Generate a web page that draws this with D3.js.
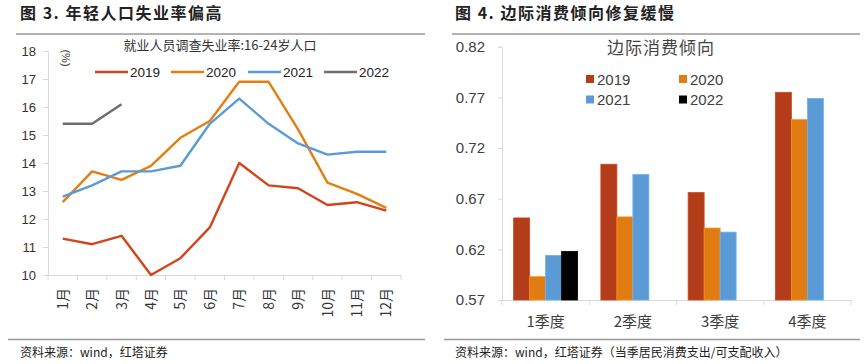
<!DOCTYPE html>
<html><head><meta charset="utf-8">
<script src="https://cdn.jsdelivr.net/npm/d3@7"></script>
<style>
body{margin:0;background:#fff;}
svg{display:block;font-family:"Liberation Sans",Arial,"Noto Sans CJK SC",sans-serif;}
.cjk{font-family:"Noto Sans CJK SC",sans-serif;}
</style></head><body>
<svg id="c" width="865" height="364"></svg>
<script>
// ---- Data: chart 1 (youth unemployment, %) ----
const months = ["1月","2月","3月","4月","5月","6月","7月","8月","9月","10月","11月","12月"];
const lineYears = ["2019","2020","2021","2022"];
const u2019 = [11.3,11.1,11.4,10.0,10.6,11.7,14.0,13.2,13.1,12.5,12.6,12.3];
const u2020 = [12.6,13.7,13.4,13.9,14.9,15.5,16.9,16.9,15.2,13.3,12.9,12.4];
const u2021 = [12.8,13.2,13.7,13.7,13.9,15.4,16.3,15.4,14.7,14.3,14.4,14.4];
const u2022 = [15.4,15.4,16.1];
const lineTicks = [10,11,12,13,14,15,16,17,18];
// ---- Data: chart 2 (marginal propensity to consume) ----
const quarters = ["1季度","2季度","3季度","4季度"];
const barYears = ["2019","2020","2021","2022"];
const c2019 = [0.651,0.704,0.676,0.775];
const c2020 = [0.593,0.652,0.641,0.748];
const c2021 = [0.614,0.694,0.637,0.769];
const c2022 = [0.618,null,null,null];
const barTicks = [0.57,0.62,0.67,0.72,0.77,0.82];

const lineColors = {"2019":"#D2441A","2020":"#E37E12","2021":"#5B9BD5","2022":"#6E6E6E"};
const barColors = {"2019":"#B33D1A","2020":"#E07C12","2021":"#5B9BD5","2022":"#000000"};
const axisCol = "#D9D9D9", txtCol = "#333";

const svg = d3.select("#c");

// ---- headers / footers ----
function frame(x0, x1, title, source, tx) {
  svg.append("text").attr("x", tx).attr("y", 19).attr("class","cjk")
    .attr("font-size", 16).attr("font-weight", "bold").attr("letter-spacing", "1.5px")
    .attr("fill", "#222").text(title);
  svg.append("line").attr("x1", x0).attr("x2", x1).attr("y1", 34).attr("y2", 34)
    .attr("stroke", "#9a9a9a").attr("stroke-width", 1.6);
  svg.append("line").attr("x1", x0 - 8).attr("x2", x1).attr("y1", 339.5).attr("y2", 339.5)
    .attr("stroke", "#9a9a9a").attr("stroke-width", 1.4);
  svg.append("text").attr("x", tx).attr("y", 357).attr("class","cjk")
    .attr("font-size", 12).attr("fill", "#222").text(source);
}
frame(16, 425, "图 3. 年轻人口失业率偏高", "资料来源：wind，红塔证券", 20);
frame(452, 860, "图 4. 边际消费倾向修复缓慢", "资料来源：wind，红塔证券（当季居民消费支出/可支配收入）", 455);

// ---- Chart 1: lines ----
const x1s = d3.scaleBand().domain(months).range([48, 401]);
const y1s = d3.scaleLinear().domain([10, 18]).range([275, 51]);

const gy1 = svg.append("g").attr("transform", "translate(48,0)")
  .call(d3.axisLeft(y1s).tickValues(lineTicks).tickSize(5).tickPadding(7).tickFormat(d3.format("d")));
const gx1 = svg.append("g").attr("transform", "translate(0,275)")
  .call(d3.axisBottom(x1s).tickSize(5).tickSizeOuter(0));
// band-edge ticks instead of center ticks
gx1.selectAll(".tick line").remove();
x1s.domain().forEach((m, i) => {
  gx1.append("line").attr("x1", x1s(m)).attr("x2", x1s(m)).attr("y1", 0).attr("y2", 5).attr("stroke", axisCol);
});
gx1.append("line").attr("x1", 401).attr("x2", 401).attr("y1", 0).attr("y2", 5).attr("stroke", axisCol);
gx1.selectAll(".tick text").attr("transform", "rotate(-90)").attr("text-anchor", "end")
  .attr("x", -13).attr("y", 0).attr("dy", "0.36em").attr("class","cjk").attr("font-size", 14);

[gy1, gx1].forEach(g => {
  g.select(".domain").attr("stroke", axisCol);
  g.selectAll(".tick line").attr("stroke", axisCol);
  g.selectAll("text").attr("fill", txtCol);
});
gy1.selectAll("text").attr("font-size", 13).attr("font-family", "Liberation Sans, Arial, sans-serif");

const lineData = {"2019": u2019, "2020": u2020, "2021": u2021, "2022": u2022};
const lineGen = d3.line().x((d, i) => x1s(months[i]) + x1s.bandwidth() / 2).y(d => y1s(d));
lineYears.forEach(yr => {
  svg.append("path").datum(lineData[yr]).attr("d", lineGen).attr("fill", "none")
    .attr("stroke", lineColors[yr]).attr("stroke-width", 2.4).attr("stroke-linejoin", "round");
});

svg.append("text").attr("x", 220).attr("y", 50).attr("text-anchor", "middle").attr("class","cjk")
  .attr("font-size", 13).attr("fill", "#333").text("就业人员调查失业率:16-24岁人口");
svg.append("text").attr("transform", "translate(62,58) rotate(90)").attr("text-anchor", "middle")
  .attr("font-size", 11).attr("fill", "#333").text("(%)");

const legX = [95, 171, 248, 324];
lineYears.forEach((yr, i) => {
  svg.append("line").attr("x1", legX[i]).attr("x2", legX[i] + 33).attr("y1", 72).attr("y2", 72)
    .attr("stroke", lineColors[yr]).attr("stroke-width", 2.4);
  svg.append("text").attr("x", legX[i] + 35).attr("y", 77).attr("font-size", 13.5)
    .attr("fill", "#222").text(yr);
});

// ---- Chart 2: bars ----
const x2s = d3.scaleBand().domain(quarters).range([502, 851]);
const sub = d3.scaleBand().domain(barYears).range([0, 64]);
const y2s = d3.scaleLinear().domain([0.57, 0.82]).range([300, 46.7]);

const gy2 = svg.append("g").attr("transform", "translate(502,0)")
  .call(d3.axisLeft(y2s).tickValues(barTicks).tickSize(4).tickPadding(13).tickFormat(d3.format(".2f")));
const gx2 = svg.append("g").attr("transform", "translate(0,300)")
  .call(d3.axisBottom(x2s).tickSize(0).tickPadding(13).tickSizeOuter(0));
x2s.domain().forEach(q => {
  gx2.append("line").attr("x1", x2s(q)).attr("x2", x2s(q)).attr("y1", 0).attr("y2", 5).attr("stroke", axisCol);
});
gx2.append("line").attr("x1", 851).attr("x2", 851).attr("y1", 0).attr("y2", 5).attr("stroke", axisCol);
[gy2, gx2].forEach(g => {
  g.select(".domain").attr("stroke", axisCol);
  g.selectAll(".tick line").attr("stroke", axisCol);
  g.selectAll("text").attr("fill", "#404040");
});
gy2.selectAll("text").attr("font-size", 15).attr("font-family", "Liberation Sans, Arial, sans-serif");
gx2.selectAll("text").attr("font-size", 15).attr("class","cjk").attr("dy", "0.9em");

const barData = {"2019": c2019, "2020": c2020, "2021": c2021, "2022": c2022};
const off = (x2s.bandwidth() - 64) / 2;
barYears.forEach(yr => {
  svg.append("g").selectAll("rect")
    .data(quarters.map((q, i) => ({q, v: barData[yr][i]})).filter(d => d.v != null))
    .join("rect")
    .attr("x", d => x2s(d.q) + off + sub(yr))
    .attr("width", sub.bandwidth())
    .attr("y", d => y2s(d.v))
    .attr("height", d => 300 - y2s(d.v))
    .attr("fill", barColors[yr])
    .attr("stroke", d3.color(barColors[yr]).brighter(0.4)).attr("stroke-width", 0.8);
});

svg.append("text").attr("x", 661).attr("y", 54).attr("text-anchor", "middle").attr("class","cjk")
  .attr("font-size", 17).attr("fill", "#444").attr("letter-spacing", "1px").text("边际消费倾向");

const legPos = [[586, 79], [679, 79], [586, 99.5], [679, 99.5]];
barYears.forEach((yr, i) => {
  const [lx, ly] = legPos[i];
  svg.append("rect").attr("x", lx).attr("y", ly - 4).attr("width", 8).attr("height", 8).attr("fill", barColors[yr]);
  svg.append("text").attr("x", lx + 11).attr("y", ly + 5.5).attr("font-size", 15)
    .attr("fill", "#404040").text(yr);
});
</script></body></html>
